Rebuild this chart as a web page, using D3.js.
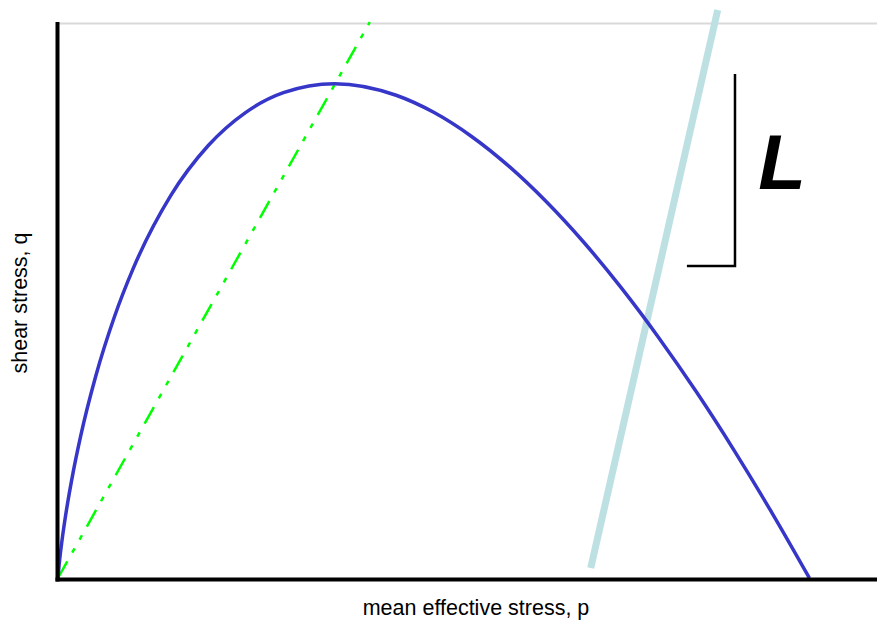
<!DOCTYPE html>
<html>
<head>
<meta charset="utf-8">
<script src="https://cdn.jsdelivr.net/npm/d3@7"></script>
<style>
  html, body { margin: 0; padding: 0; background: #fff; }
  svg { display: block; font-family: "Liberation Sans", Arial, sans-serif; }
</style>
</head>
<body>
<svg id="chart" width="877" height="624"></svg>
<script>
// Yield locus: mean effective stress p and shear stress q
const yieldP = [0, 0.1, 0.25, 0.5, 1, 2, 3, 5, 7.5, 10, 15, 20, 25, 30, 36.8, 45, 50, 55, 60, 65, 70, 75, 80, 85, 90, 95, 100];
const yieldQ = [0, 1.23, 2.68, 4.74, 8.24, 13.99, 18.82, 26.79, 34.74, 41.17, 50.89, 57.56, 61.98, 64.60, 65.79, 64.25, 61.98, 58.80, 54.81, 50.07, 44.65, 38.58, 31.92, 24.71, 16.96, 8.71, 0];

// Critical state line (dash-dot)
const cslP = [0, 41.5];
const cslQ = [0, 74];

// Steep line crossing the locus
const steepP = [70.9, 87.8];
const steepQ = [1.33, 75.6];

// Bracket beside the "L" label
const bracketP = [90.1, 90.1, 83.7];
const bracketQ = [67.07, 41.52, 41.52];

// Label
const labelText = "L";
const labelP = 93.2;
const labelQ = 51.77;

const xDomain = [0, 109];
const yDomain = [0, 74];
const xTitle = "mean effective stress, p";
const yTitle = "shear stress, q";

const svg = d3.select("#chart");
const x = d3.scaleLinear().domain(xDomain).range([58, 877]);
const y = d3.scaleLinear().domain(yDomain).range([578, 22]);

const zip = (a, b) => a.map((v, i) => [v, b[i]]);
const line = d3.line().x(d => x(d[0])).y(d => y(d[1]));

// light frame of the plot area
svg.append("line")
  .attr("x1", x(0)).attr("x2", x(xDomain[1]))
  .attr("y1", y(yDomain[1]) + 1.5).attr("y2", y(yDomain[1]) + 1.5)
  .attr("stroke", "#d9d9d9").attr("stroke-width", 2);

// steep line
svg.append("path")
  .datum(zip(steepP, steepQ))
  .attr("d", line)
  .attr("fill", "none")
  .attr("stroke", "#bde0e3")
  .attr("stroke-width", 7);

// critical state line
svg.append("path")
  .datum(zip(cslP, cslQ))
  .attr("d", line)
  .attr("fill", "none")
  .attr("stroke", "#00ff00")
  .attr("stroke-width", 2.5)
  .attr("stroke-dasharray", "19,10,5,10,5,10");

// yield locus
svg.append("path")
  .datum(zip(yieldP, yieldQ))
  .attr("d", line.curve(d3.curveMonotoneX))
  .attr("fill", "none")
  .attr("stroke", "#3636c8")
  .attr("stroke-width", 3.5);

// bracket
svg.append("path")
  .datum(zip(bracketP, bracketQ))
  .attr("d", d3.line().x(d => x(d[0])).y(d => y(d[1])))
  .attr("fill", "none")
  .attr("stroke", "#000")
  .attr("stroke-width", 2.5);

svg.append("text")
  .attr("x", x(labelP)).attr("y", y(labelQ))
  .attr("font-size", 78)
  .attr("font-weight", "bold")
  .attr("font-style", "italic")
  .attr("fill", "#000")
  .text(labelText);

// axes
const xAxis = svg.append("g")
  .attr("transform", `translate(0,${y(0) + 1.5})`)
  .call(d3.axisBottom(x).tickValues([]).tickSizeOuter(0));
xAxis.select(".domain").attr("d", `M${x(0) - 2.5},0H877`).attr("stroke", "#000").attr("stroke-width", 4);

const yAxis = svg.append("g")
  .attr("transform", `translate(${x(0) - 0.5},0)`)
  .call(d3.axisLeft(y).tickValues([]).tickSizeOuter(0));
yAxis.select(".domain").attr("d", `M0,${y(yDomain[1])}V${y(0) + 3.5}`).attr("stroke", "#000").attr("stroke-width", 4);

// axis titles
svg.append("text")
  .attr("x", 476).attr("y", 615)
  .attr("text-anchor", "middle")
  .attr("font-size", 21.5)
  .attr("fill", "#000")
  .text(xTitle);

svg.append("text")
  .attr("transform", "translate(27,303) rotate(-90)")
  .attr("text-anchor", "middle")
  .attr("font-size", 21.5)
  .attr("fill", "#000")
  .text(yTitle);
</script>
</body>
</html>
